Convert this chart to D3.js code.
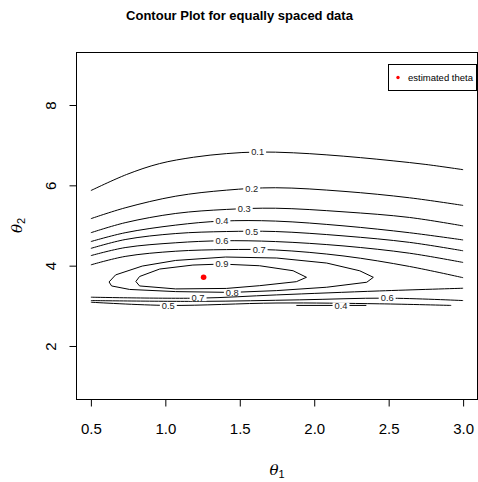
<!DOCTYPE html>
<html>
<head>
<meta charset="utf-8">
<script src="https://cdn.jsdelivr.net/npm/d3@7"></script>
<style>
  body { margin: 0; background: #fff; }
  text { font-family: "Liberation Sans", Arial, Helvetica, sans-serif; }
</style>
</head>
<body>
<div id="graphic-area"></div>
<script>
// values (theta1, theta2)
const xTicks = [0.5, 1.0, 1.5, 2.0, 2.5, 3.0];
const yTicks = [2, 4, 6, 8];

const lineLevels = ["0.1", "0.2", "0.3", "0.4", "0.5", "0.6", "0.7", "0.8", "0.9", "0.7", "0.6", "0.5", "0.4"];
const lineClosed = [false, false, false, false, false, false, false, true, true, false, false, false, false];
const labelTheta1 = [1.62, 1.58, 1.53, 1.38, 1.58, 1.38, 1.63, 1.45, 1.38, 1.22, 2.49, 1.02, 2.18];
const labelSide = ["top", "top", "top", "top", "top", "top", "top", "bottom", "top", "top", "top", "top", "top"];

const linePoints = [
  [[0.5,5.87],[0.74,6.27],[0.96,6.54],[1.19,6.70],[1.41,6.79],[1.62,6.83],[1.86,6.81],[2.08,6.76],[2.31,6.69],[2.53,6.61],[2.75,6.52],[3.0,6.39]],
  [[0.5,5.17],[0.73,5.44],[1.07,5.73],[1.41,5.88],[1.74,5.94],[2.20,5.85],[2.64,5.69],[3.0,5.50]],
  [[0.5,4.82],[0.73,5.07],[1.07,5.30],[1.41,5.40],[1.74,5.43],[2.20,5.34],[2.64,5.20],[3.0,4.99]],
  [[0.5,4.60],[0.73,4.82],[1.07,5.01],[1.38,5.11],[1.74,5.11],[2.20,4.99],[2.64,4.82],[3.0,4.64]],
  [[0.5,4.43],[0.73,4.65],[1.07,4.80],[1.41,4.85],[1.74,4.85],[2.20,4.74],[2.64,4.58],[3.0,4.37]],
  [[0.5,4.25],[0.73,4.45],[1.07,4.57],[1.38,4.62],[1.74,4.60],[2.20,4.49],[2.64,4.31],[3.0,4.08]],
  [[0.5,4.02],[0.73,4.23],[1.07,4.36],[1.41,4.40],[1.74,4.39],[2.20,4.24],[2.64,3.98],[3.0,3.70]],
  [[0.622,3.594],[0.666,3.770],[0.845,3.990],[1.069,4.130],[1.405,4.215],[1.748,4.190],[2.084,4.065],[2.306,3.872],[2.397,3.710],
   [2.353,3.587],[2.084,3.463],[1.748,3.379],[1.446,3.334],[1.069,3.354],[0.760,3.408],[0.639,3.495]],
  [[0.802,3.606],[0.827,3.730],[0.962,3.916],[1.185,4.015],[1.378,4.040],[1.633,3.998],[1.858,3.874],[1.948,3.710],
   [1.880,3.601],[1.634,3.502],[1.410,3.433],[1.069,3.421],[0.827,3.495]],
  [[0.5,3.215],[1.217,3.191],[1.748,3.272],[2.44,3.371],[3.0,3.438]],
  [[0.5,3.131],[1.23,3.111],[1.903,3.149],[2.487,3.191],[3.0,3.131]],
  [[0.5,3.09],[1.02,3.01],[1.75,3.07],[2.44,3.05],[2.92,3.01]],
  [[1.88,3.01],[2.35,3.01]]
];

const thetaHat = [1.257, 3.71];
const legendLabels = ["estimated theta"];

const w = 478;
const h = 482;
const plot = {left: 76, right: 478, top: 52, bottom: 399};

const svg = d3.select("#graphic-area")
              .append("svg")
              .attr("width", w)
              .attr("height", h);

const xScale = d3.scaleLinear().domain([0.4, 3.1]).range([plot.left, plot.right]);
const yScale = d3.scaleLinear().domain([0.68, 9.32]).range([plot.bottom, plot.top]);

// contour lines
const openLine = d3.line()
                   .x(d => xScale(d[0]))
                   .y(d => yScale(d[1]))
                   .curve(d3.curveCatmullRom.alpha(0.5));
const loopLine = d3.line()
                   .x(d => xScale(d[0]))
                   .y(d => yScale(d[1]))
                   .curve(d3.curveLinearClosed);

svg.append("g")
   .selectAll("path")
   .data(linePoints)
   .enter()
   .append("path")
   .attr("d", (d, i) => lineClosed[i] ? loopLine(d) : openLine(d))
   .attr("fill", "none")
   .attr("stroke", "#000")
   .attr("stroke-width", 1);

// where each label sits on its line
const labelPos = function(i) {
  const pts = linePoints[i].slice();
  if (lineClosed[i]) pts.push(pts[0]);
  const t = labelTheta1[i];
  const hits = [];
  for (let k = 0; k < pts.length - 1; k++) {
    const a = pts[k], b = pts[k + 1];
    if ((a[0] - t) * (b[0] - t) <= 0 && a[0] !== b[0]) {
      hits.push(a[1] + (b[1] - a[1]) * (t - a[0]) / (b[0] - a[0]));
    }
  }
  const v = labelSide[i] === "bottom" ? d3.min(hits) : d3.max(hits);
  return [t, v];
};

const labels = svg.append("g")
                  .selectAll("g")
                  .data(lineLevels)
                  .enter()
                  .append("g")
                  .attr("transform", (d, i) => {
                    const p = labelPos(i);
                    return "translate(" + xScale(p[0]) + "," + yScale(p[1]) + ")";
                  });

labels.append("rect")
      .attr("fill", "#fff");

labels.append("text")
      .attr("text-anchor", "middle")
      .attr("y", 3.3)
      .attr("font-size", "9.3px")
      .attr("fill", "#222")
      .text(d => d);

labels.each(function() {
  const g = d3.select(this);
  const tw = g.select("text").node().getComputedTextLength();
  g.select("rect")
   .attr("x", -tw / 2 - 2)
   .attr("y", -3)
   .attr("width", tw + 4)
   .attr("height", 6);
});

// estimated point
svg.append("circle")
   .attr("cx", xScale(thetaHat[0]))
   .attr("cy", yScale(thetaHat[1]))
   .attr("r", 2.8)
   .attr("fill", "#ff0000");

// box
svg.append("rect")
   .attr("x", plot.left + 0.5)
   .attr("y", plot.top + 0.5)
   .attr("width", plot.right - plot.left - 1)
   .attr("height", plot.bottom - plot.top)
   .attr("fill", "none")
   .attr("stroke", "#000")
   .attr("stroke-width", 1);

// axes
const xAxis = d3.axisBottom(xScale)
                .tickValues(xTicks)
                .tickFormat(d3.format(".1f"))
                .tickSize(7)
                .tickSizeOuter(0)
                .tickPadding(17);
const gx = svg.append("g")
              .attr("transform", "translate(0," + (plot.bottom + 0.5) + ")")
              .call(xAxis);
gx.select(".domain").remove();
gx.selectAll("text").attr("font-size", "15px").attr("font-family", "Liberation Sans, Arial, sans-serif").attr("fill", "#000");

const yAxis = d3.axisLeft(yScale)
                .tickValues(yTicks)
                .tickSize(7)
                .tickSizeOuter(0);
const gy = svg.append("g")
              .attr("transform", "translate(" + (plot.left + 0.5) + ",0)")
              .call(yAxis);
gy.select(".domain").remove();
gy.selectAll("text")
  .attr("font-size", "15px")
  .attr("font-family", "Liberation Sans, Arial, sans-serif")
  .attr("fill", "#000")
  .attr("x", null)
  .attr("dy", null)
  .attr("text-anchor", "middle")
  .attr("transform", "translate(-21,0) rotate(-90)");

// title
svg.append("text")
   .attr("x", 239.5)
   .attr("y", 20)
   .attr("text-anchor", "middle")
   .attr("font-size", "13px")
   .attr("font-weight", "bold")
   .text("Contour Plot for equally spaced data");

// axis titles
const xt = svg.append("text")
              .attr("x", (plot.left + plot.right) / 2)
              .attr("y", 475)
              .attr("text-anchor", "middle");
xt.append("tspan").attr("font-family", "DejaVu Serif, serif").attr("font-style", "italic").attr("font-size", "15px").text("θ");
xt.append("tspan").attr("font-size", "11px").attr("dy", 3).text("1");

const yt = svg.append("text")
              .attr("transform", "translate(22," + (plot.top + plot.bottom) / 2 + ") rotate(-90)")
              .attr("text-anchor", "middle");
yt.append("tspan").attr("font-family", "DejaVu Serif, serif").attr("font-style", "italic").attr("font-size", "15px").text("θ");
yt.append("tspan").attr("font-size", "11px").attr("dy", 3).text("2");

// legend
const legend = svg.append("g").attr("transform", "translate(388,64)");
legend.append("rect")
      .attr("x", 0.5)
      .attr("y", 0.5)
      .attr("width", 88)
      .attr("height", 26)
      .attr("fill", "#fff")
      .attr("stroke", "#000");
legend.selectAll("circle")
      .data(legendLabels)
      .enter()
      .append("circle")
      .attr("cx", 10)
      .attr("cy", 13.5)
      .attr("r", 1.7)
      .attr("fill", "#ff0000");
legend.selectAll("text")
      .data(legendLabels)
      .enter()
      .append("text")
      .attr("x", 20)
      .attr("y", 16.8)
      .attr("font-size", "9.5px")
      .text(d => d);
</script>
</body>
</html>
